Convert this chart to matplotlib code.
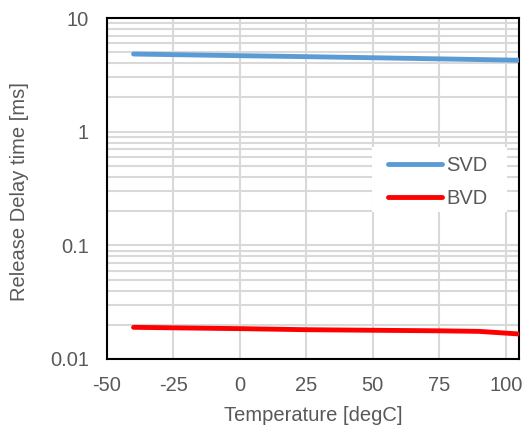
import matplotlib
matplotlib.use("Agg")
import matplotlib.pyplot as plt
from matplotlib.ticker import FixedLocator, NullFormatter, LogLocator
from matplotlib.patches import Rectangle

temperature = [-40, -25, 0, 25, 50, 75, 90, 105]
svd = [4.82, 4.76, 4.66, 4.57, 4.47, 4.37, 4.31, 4.25]
bvd = [0.0190, 0.0188, 0.0185, 0.0181, 0.0179, 0.0177, 0.0175, 0.0166]
x_ticks = [-50, -25, 0, 25, 50, 75, 100]
y_ticks = [0.01, 0.1, 1, 10]
y_tick_labels = ["0.01", "0.1", "1", "10"]

plt.rcParams['font.family'] = ['Liberation Sans', 'DejaVu Sans']
plt.rcParams['axes.unicode_minus'] = False
grey = '#595959'
fs = 14.5

fig = plt.figure(figsize=(5.26, 4.33), dpi=100)
ax = fig.add_axes([107/526, 1 - 359/433, (519-107)/526, (359-18)/433])

ax.set_yscale('log')
ax.set_xlim(-50, 105)
ax.set_ylim(0.01, 10)

ax.plot(temperature, svd, color='#5b9bd5', lw=3.5, solid_capstyle='round', label='SVD', zorder=3)
ax.plot(temperature, bvd, color='#ff0000', lw=3.5, solid_capstyle='round', label='BVD', zorder=3)

ax.xaxis.set_major_locator(FixedLocator(x_ticks))
ax.yaxis.set_major_locator(FixedLocator(y_ticks))
ax.set_yticklabels(y_tick_labels)
ax.yaxis.set_minor_locator(LogLocator(base=10, subs=range(2, 10)))
ax.yaxis.set_minor_formatter(NullFormatter())

ax.grid(True, which='major', color='#d9d9d9', lw=1.5, zorder=0)
ax.grid(True, which='minor', axis='y', color='#d9d9d9', lw=1.5, zorder=0)
ax.set_axisbelow(True)

for s in ax.spines.values():
    s.set_color('black')
    s.set_linewidth(1.5)

ax.tick_params(which='both', length=0, colors=grey, labelsize=fs)
ax.tick_params(axis='y', pad=13)
ax.tick_params(axis='x', pad=12)
ax.set_xlabel('Temperature [degC]', color=grey, fontsize=fs)
ax.set_ylabel('Release Delay time [ms]', color=grey, fontsize=fs)
ax.xaxis.set_label_coords((313-107)/412, (359-406)/341)
ax.yaxis.set_label_coords((29-107)/412, 0.49)

# legend background box
def ax_x(px):
    return (px - 107) / 412
def ax_y(py):
    return (359 - py) / 341
ax.add_patch(Rectangle((ax_x(372), ax_y(212)), ax_x(507) - ax_x(372), ax_y(147) - ax_y(212),
                       transform=ax.transAxes, facecolor='white', edgecolor='none', zorder=2.5))

leg = ax.legend(loc='center left', bbox_to_anchor=(ax_x(388), ax_y(182)),
                frameon=False, fontsize=fs, handlelength=2.7, handletextpad=0.2,
                labelspacing=0.72, borderpad=0, borderaxespad=0)
leg.set_zorder(4)
for t in leg.get_texts():
    t.set_color(grey)

fig.savefig('out.png', dpi=100)
